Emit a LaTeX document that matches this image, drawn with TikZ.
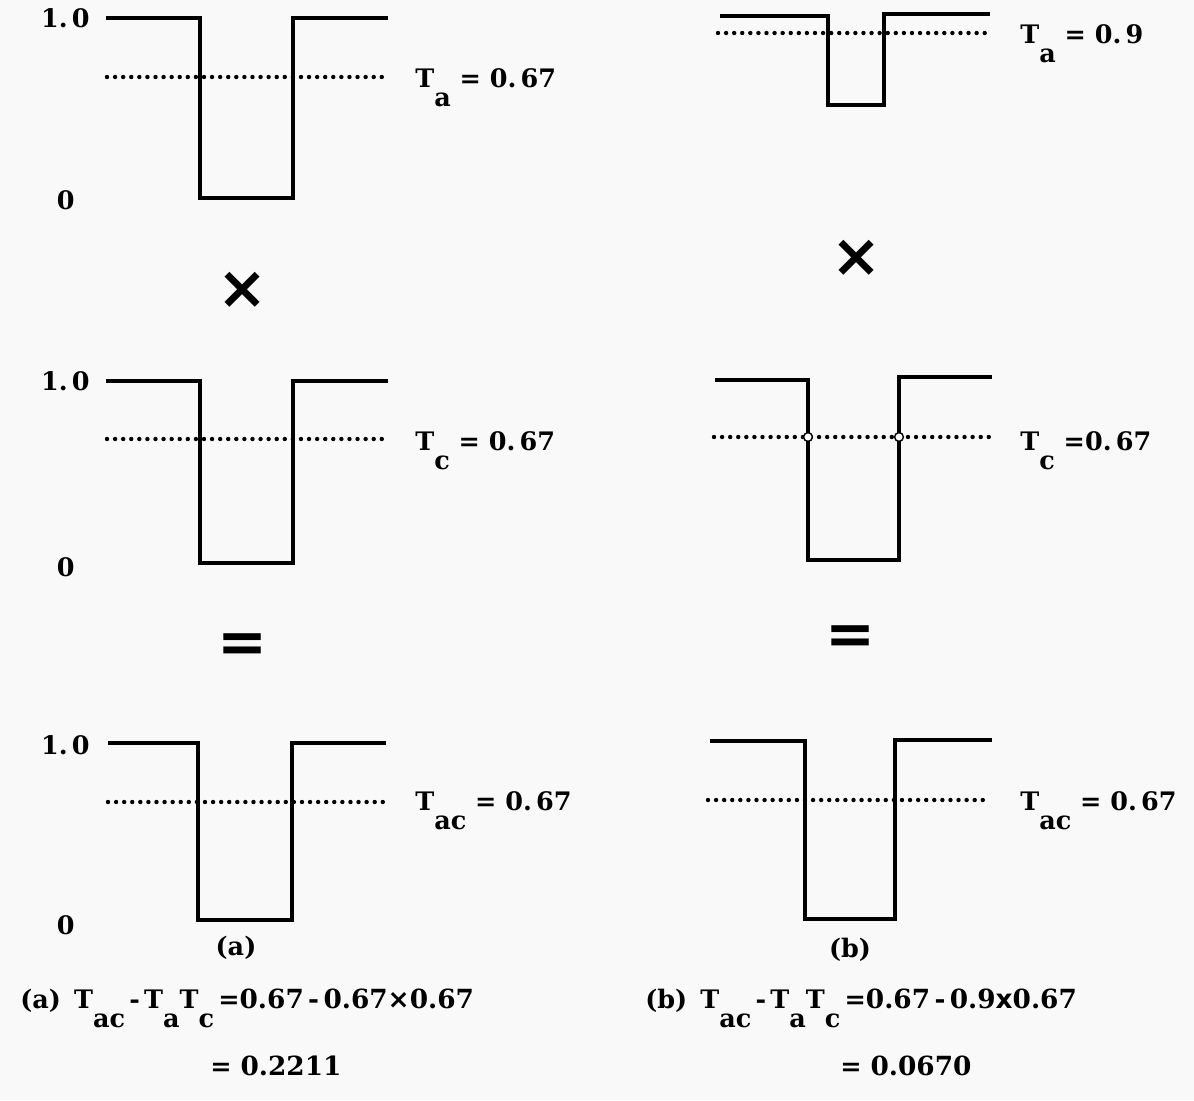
\documentclass[tikz,border=0pt]{standalone}
\usepackage{fontspec}
\usepackage{tikz}
\usetikzlibrary{positioning}
\setmainfont{DejaVu Serif}
\newfontfamily\symfont{DejaVu Sans}
\newcommand{\lo}[1]{\raisebox{-0.75em}{#1}}

\begin{document}
\begin{tikzpicture}[x=0.02cm, y=-0.02cm,
  pulse/.style={line width=2.4pt, line join=miter},
  level/.style={line width=2.5pt, line cap=round, dash pattern=on 0pt off 4.6pt},
  lbl/.style={anchor=base west, inner sep=0pt, font=\fontsize{14.5}{17}\selectfont\bfseries},
  axlbl/.style={anchor=base east, inner sep=0pt, font=\fontsize{14.5}{17}\selectfont\bfseries},
  op/.style={inner sep=0pt, font=\fontsize{34}{34}\selectfont\symfont\bfseries},
  knot/.style={circle, draw, fill=white, line width=0.8pt, inner sep=0pt, minimum size=5pt}]
\fill[gray!5] (0,0) rectangle (1194,1100);
\useasboundingbox (0,0) rectangle (1194,1100);

% (a) left column
\node[axlbl] (oneA1) at (90,27) {1.\,0};
\node[axlbl] (zeroA1) at (75,209) {0};
\draw[pulse] (106,18) -- (200,18) -- (200,198) -- (293,198) -- (293,18) -- (388,18);
\draw[level] (107,77) -- (385,77);
\node[lbl] (ta) at (415,87) {T\lo{a} = 0.\,67};

\node[op] (timesA) at (243,290) {×};

\node[axlbl] (oneA2) at (90,390) {1.\,0};
\node[axlbl] (zeroA2) at (75,576) {0};
\draw[pulse] (106,381) -- (200,381) -- (200,563) -- (293,563) -- (293,381) -- (388,381);
\draw[level] (107,439) -- (385,439);
\node[lbl] (tcA) at (415,450) {T\lo{c} = 0.\,67};

\node[op] (eqA) at (243,648) {=};

\node[axlbl] (oneA3) at (90,754) {1.\,0};
\node[axlbl] (zeroA3) at (75,934) {0};
\draw[pulse] (108,743) -- (198,743) -- (198,920) -- (292,920) -- (292,743) -- (386,743);
\draw[level] (108,802) -- (384,802);
\node[lbl] (tacA) at (415,810) {T\lo{ac} = 0.\,67};

\node[lbl, anchor=center] (capA) at (236,948) {(a)};

% (b) right column
\draw[pulse] (720,16) -- (828,16) -- (828,105) -- (884,105) -- (884,14) -- (990,14);
\draw[level] (718,33) -- (988,33);
\node[lbl] (tb) at (1020,43) {T\lo{a} = 0.\,9};

\node[op] (timesB) at (857,258) {×};

\draw[pulse] (715,380) -- (808,380) -- (808,560) -- (899,560) -- (899,377) -- (992,377);
\draw[level] (714,437) -- (993,437);
\node[knot] (crossB1) at (808,437) {};
\node[knot] (crossB2) at (899,437) {};
\node[lbl] (tcB) at (1020,450) {T\lo{c} =0.\,67};

\node[op] (eqB) at (851,640) {=};

\draw[pulse] (710,741) -- (805,741) -- (805,919) -- (895,919) -- (895,740) -- (992,740);
\draw[level] (708,800) -- (990,800);
\node[lbl] (tacB) at (1020,810) {T\lo{ac} = 0.\,67};

\node[lbl, anchor=center] (capB) at (850,950) {(b)};

% check formulas
\node[lbl] (formA) at (20,1008) {(a)\, T\lo{ac}\,-\,T\lo{a}T\lo{c}\,={\fontsize{15}{19}\selectfont 0.67\,-\,0.67{\symfont ×}0.67}};
\node[lbl] (resA) at (210,1075) {= {\fontsize{15}{19}\selectfont 0.2211}};
\node[lbl] (formB) at (645,1008) {(b)\, T\lo{ac}\,-\,T\lo{a}T\lo{c}\,={\fontsize{15}{19}\selectfont 0.67\,-\,0.9{\symfont x}0.67}};
\node[lbl] (resB) at (840,1075) {= {\fontsize{15}{19}\selectfont 0.0670}};
\end{tikzpicture}
\end{document}
